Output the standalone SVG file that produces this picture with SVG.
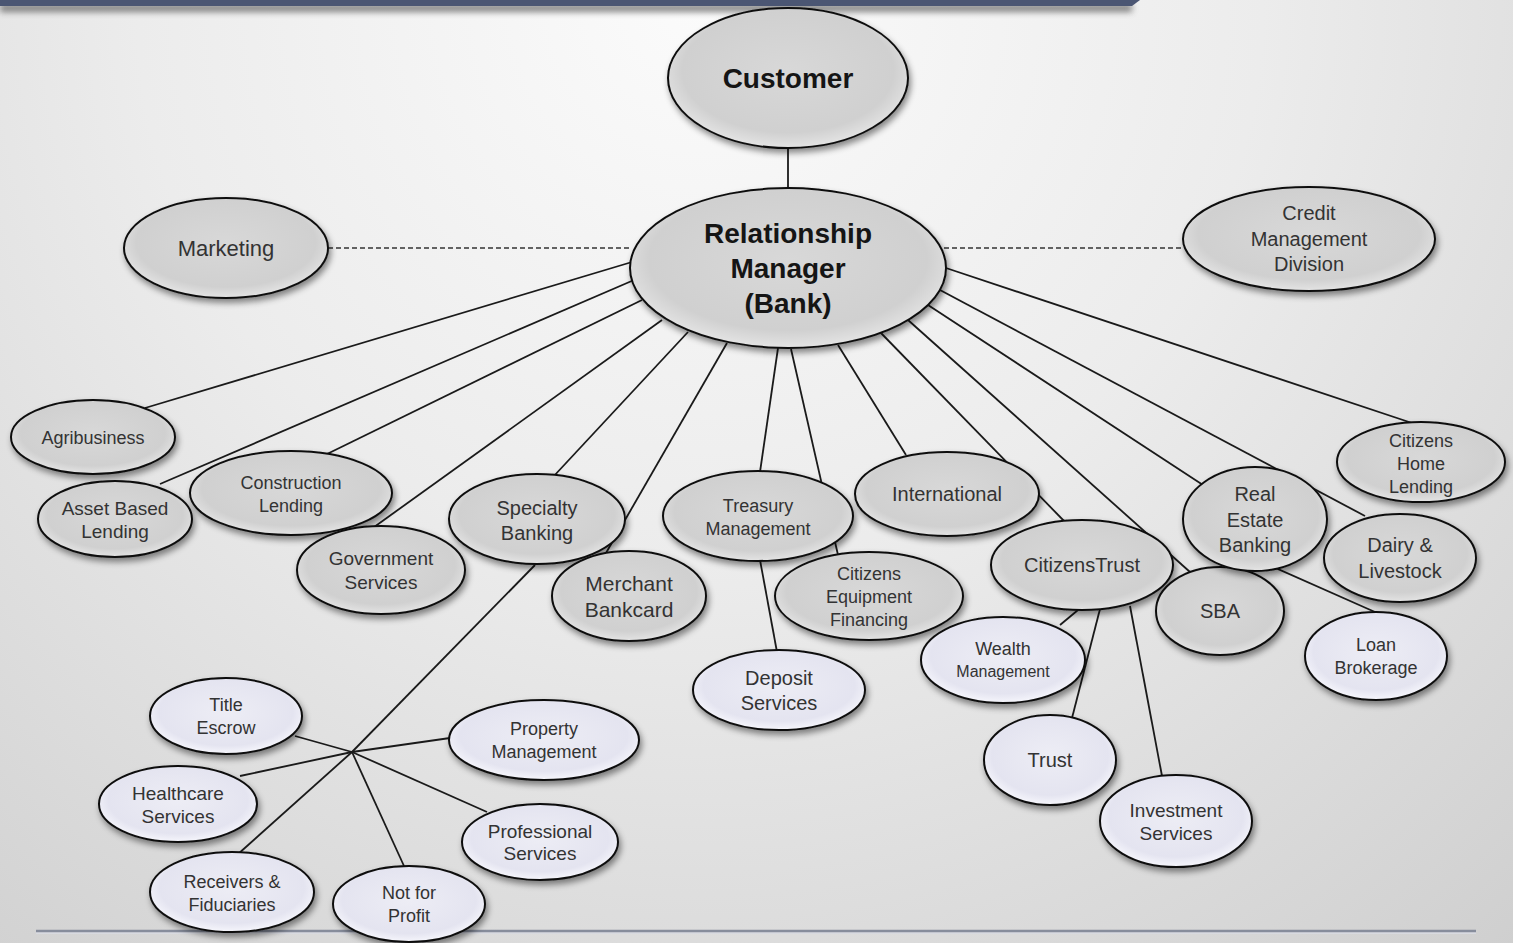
<svg xmlns="http://www.w3.org/2000/svg" width="1513" height="943" viewBox="0 0 1513 943">
<defs>
<radialGradient id="bg" cx="700" cy="0" r="1250" gradientUnits="userSpaceOnUse">
<stop offset="0" stop-color="#fbfbfb"/>
<stop offset="0.45" stop-color="#ececec"/>
<stop offset="1" stop-color="#cfcfcf"/>
</radialGradient>
<radialGradient id="gGray" cx="50%" cy="45%" r="55%">
<stop offset="0" stop-color="#d8d8d8"/>
<stop offset="0.8" stop-color="#d0d0d0"/>
<stop offset="1" stop-color="#e4e4e4"/>
</radialGradient>
<radialGradient id="gLight" cx="50%" cy="45%" r="55%">
<stop offset="0" stop-color="#ededf5"/>
<stop offset="0.8" stop-color="#e4e4f0"/>
<stop offset="1" stop-color="#f6f6fc"/>
</radialGradient>
<filter id="sh" x="-20%" y="-20%" width="140%" height="150%">
<feDropShadow dx="2" dy="4" stdDeviation="3" flood-color="#000" flood-opacity="0.45"/>
</filter>
<filter id="blur" x="-5%" y="-100%" width="110%" height="400%">
<feGaussianBlur stdDeviation="3"/>
</filter>
<style>
.n{stroke:#111;stroke-width:2;filter:url(#sh)}
.g{fill:url(#gGray)}
.l{fill:url(#gLight)}
.t{font-family:"Liberation Sans","DejaVu Sans",sans-serif;fill:#333;text-anchor:middle;font-size:19px}
.b{font-weight:bold;fill:#151515;font-size:28px}
.c line,.c polyline{stroke:#1a1a1a;stroke-width:1.8;fill:none}
.c .d{stroke-dasharray:5 3;stroke-width:1.5;stroke:#333}
</style>
</defs>
<rect width="1513" height="943" fill="url(#bg)"/>
<g id="frame">
<rect x="0" y="4" width="1132" height="8" fill="#555" filter="url(#blur)" opacity="0.7"/>
<polygon points="0,0 1140,0 1132,6 0,6" fill="#4b5673"/>
<line x1="36" y1="933" x2="1476" y2="933" stroke="#d8dae0" stroke-width="2"/>
<line x1="36" y1="931" x2="1476" y2="931" stroke="#878d9c" stroke-width="2.5"/>
</g>
<g id="connectors" class="c">
<line x1="788" y1="146" x2="788" y2="190"/>
<line class="d" x1="328" y1="248" x2="632" y2="248"/>
<line class="d" x1="944" y1="248" x2="1184" y2="248"/>
<line x1="632" y1="262" x2="145" y2="408"/>
<line x1="634" y1="280" x2="160" y2="484"/>
<line x1="642" y1="300" x2="325" y2="455"/>
<line x1="662" y1="320" x2="370" y2="530"/>
<line x1="688" y1="332" x2="553" y2="477"/>
<line x1="727" y1="343" x2="606" y2="553"/>
<line x1="778" y1="348" x2="760" y2="472"/>
<line x1="791" y1="349" x2="838" y2="555"/>
<line x1="838" y1="345" x2="906" y2="455"/>
<line x1="880" y1="332" x2="1065" y2="522"/>
<line x1="908" y1="320" x2="1190" y2="572"/>
<line x1="928" y1="305" x2="1203" y2="485"/>
<line x1="940" y1="290" x2="1365" y2="516"/>
<line x1="946" y1="268" x2="1418" y2="425"/>
<line x1="760" y1="560" x2="777" y2="652"/>
<line x1="535" y1="565" x2="352" y2="752"/>
<line x1="352" y1="752" x2="295" y2="736"/>
<line x1="352" y1="752" x2="450" y2="738"/>
<line x1="352" y1="752" x2="240" y2="776"/>
<line x1="352" y1="752" x2="487" y2="812"/>
<line x1="352" y1="752" x2="237" y2="855"/>
<line x1="352" y1="752" x2="404" y2="866"/>
<line x1="1078" y1="610" x2="1060" y2="625"/>
<line x1="1100" y1="609" x2="1072" y2="718"/>
<line x1="1130" y1="606" x2="1162" y2="776"/>
<line x1="1262" y1="562" x2="1375" y2="612"/>
</g>
<g id="customer"><ellipse class="n g" cx="788" cy="78" rx="120" ry="70"/><text class="t b" x="788" y="88">Customer</text></g>
<g id="rm"><ellipse class="n g" cx="788" cy="268" rx="158" ry="80"/><text class="t b" x="788" y="243">Relationship</text><text class="t b" x="788" y="278">Manager</text><text class="t b" x="788" y="313">(Bank)</text></g>
<g id="marketing"><ellipse class="n g" cx="226" cy="248" rx="102" ry="50"/><text class="t" style="font-size:22px" x="226" y="256">Marketing</text></g>
<g id="credit"><ellipse class="n g" cx="1309" cy="239" rx="126" ry="52"/><text class="t" style="font-size:20px" x="1309" y="220">Credit</text><text class="t" style="font-size:20px" x="1309" y="246">Management</text><text class="t" style="font-size:20px" x="1309" y="271">Division</text></g>
<g id="agribusiness"><ellipse class="n g" cx="93" cy="437" rx="82" ry="37"/><text class="t" style="font-size:18px" x="93" y="444">Agribusiness</text></g>
<g id="assetbased"><ellipse class="n g" cx="115" cy="519" rx="77" ry="38"/><text class="t" x="115" y="515">Asset Based</text><text class="t" x="115" y="538">Lending</text></g>
<g id="construction"><ellipse class="n g" cx="291" cy="493" rx="101" ry="42"/><text class="t" style="font-size:18px" x="291" y="489">Construction</text><text class="t" style="font-size:18px" x="291" y="512">Lending</text></g>
<g id="government"><ellipse class="n g" cx="381" cy="570" rx="84" ry="44"/><text class="t" x="381" y="565">Government</text><text class="t" x="381" y="589">Services</text></g>
<g id="specialty"><ellipse class="n g" cx="537" cy="519" rx="88" ry="45"/><text class="t" style="font-size:20px" x="537" y="515">Specialty</text><text class="t" style="font-size:20px" x="537" y="540">Banking</text></g>
<g id="merchant"><ellipse class="n g" cx="629" cy="596" rx="77" ry="45"/><text class="t" style="font-size:21px" x="629" y="591">Merchant</text><text class="t" style="font-size:21px" x="629" y="617">Bankcard</text></g>
<g id="treasury"><ellipse class="n g" cx="758" cy="516" rx="95" ry="45"/><text class="t" style="font-size:18px" x="758" y="512">Treasury</text><text class="t" style="font-size:18px" x="758" y="535">Management</text></g>
<g id="international"><ellipse class="n g" cx="947" cy="494" rx="92" ry="42"/><text class="t" style="font-size:20px" x="947" y="501">International</text></g>
<g id="cef"><ellipse class="n g" cx="869" cy="596" rx="94" ry="44"/><text class="t" style="font-size:18px" x="869" y="580">Citizens</text><text class="t" style="font-size:18px" x="869" y="603">Equipment</text><text class="t" style="font-size:18px" x="869" y="626">Financing</text></g>
<g id="deposit"><ellipse class="n l" cx="779" cy="690" rx="86" ry="40"/><text class="t" style="font-size:20px" x="779" y="685">Deposit</text><text class="t" style="font-size:20px" x="779" y="710">Services</text></g>
<g id="citizenstrust"><ellipse class="n g" cx="1082" cy="565" rx="91" ry="45"/><text class="t" style="font-size:20px" x="1082" y="572">CitizensTrust</text></g>
<g id="wealth"><ellipse class="n l" cx="1003" cy="660" rx="82" ry="43"/><text class="t" style="font-size:18px" x="1003" y="655">Wealth</text><text class="t" style="font-size:16px" x="1003" y="677">Management</text></g>
<g id="trust"><ellipse class="n l" cx="1050" cy="760" rx="66" ry="45"/><text class="t" style="font-size:20px" x="1050" y="767">Trust</text></g>
<g id="investment"><ellipse class="n l" cx="1176" cy="821" rx="76" ry="46"/><text class="t" x="1176" y="817">Investment</text><text class="t" x="1176" y="840">Services</text></g>
<g id="sba"><ellipse class="n g" cx="1220" cy="611" rx="64" ry="44"/><text class="t" style="font-size:20px" x="1220" y="618">SBA</text></g>
<g id="realestate"><ellipse class="n g" cx="1255" cy="519" rx="72" ry="52"/><text class="t" style="font-size:20px" x="1255" y="501">Real</text><text class="t" style="font-size:20px" x="1255" y="527">Estate</text><text class="t" style="font-size:20px" x="1255" y="552">Banking</text></g>
<g id="homelending"><ellipse class="n g" cx="1421" cy="462" rx="84" ry="40"/><text class="t" style="font-size:18px" x="1421" y="447">Citizens</text><text class="t" style="font-size:18px" x="1421" y="470">Home</text><text class="t" style="font-size:18px" x="1421" y="493">Lending</text></g>
<g id="dairy"><ellipse class="n g" cx="1400" cy="558" rx="76" ry="44"/><text class="t" style="font-size:20px" x="1400" y="552">Dairy &amp;</text><text class="t" style="font-size:20px" x="1400" y="578">Livestock</text></g>
<g id="loanbrokerage"><ellipse class="n l" cx="1376" cy="656" rx="71" ry="44"/><text class="t" style="font-size:18px" x="1376" y="651">Loan</text><text class="t" style="font-size:18px" x="1376" y="674">Brokerage</text></g>
<g id="titleescrow"><ellipse class="n l" cx="226" cy="716" rx="76" ry="38"/><text class="t" style="font-size:18px" x="226" y="711">Title</text><text class="t" style="font-size:18px" x="226" y="734">Escrow</text></g>
<g id="property"><ellipse class="n l" cx="544" cy="740" rx="95" ry="40"/><text class="t" style="font-size:18px" x="544" y="735">Property</text><text class="t" style="font-size:18px" x="544" y="758">Management</text></g>
<g id="healthcare"><ellipse class="n l" cx="178" cy="804" rx="79" ry="38"/><text class="t" x="178" y="800">Healthcare</text><text class="t" x="178" y="823">Services</text></g>
<g id="professional"><ellipse class="n l" cx="540" cy="842" rx="78" ry="38"/><text class="t" x="540" y="838">Professional</text><text class="t" x="540" y="860">Services</text></g>
<g id="receivers"><ellipse class="n l" cx="232" cy="892" rx="82" ry="40"/><text class="t" style="font-size:18px" x="232" y="888">Receivers &amp;</text><text class="t" style="font-size:18px" x="232" y="911">Fiduciaries</text></g>
<g id="notforprofit"><ellipse class="n l" cx="409" cy="904" rx="76" ry="38"/><text class="t" style="font-size:18px" x="409" y="899">Not for</text><text class="t" style="font-size:18px" x="409" y="922">Profit</text></g>
</svg>
